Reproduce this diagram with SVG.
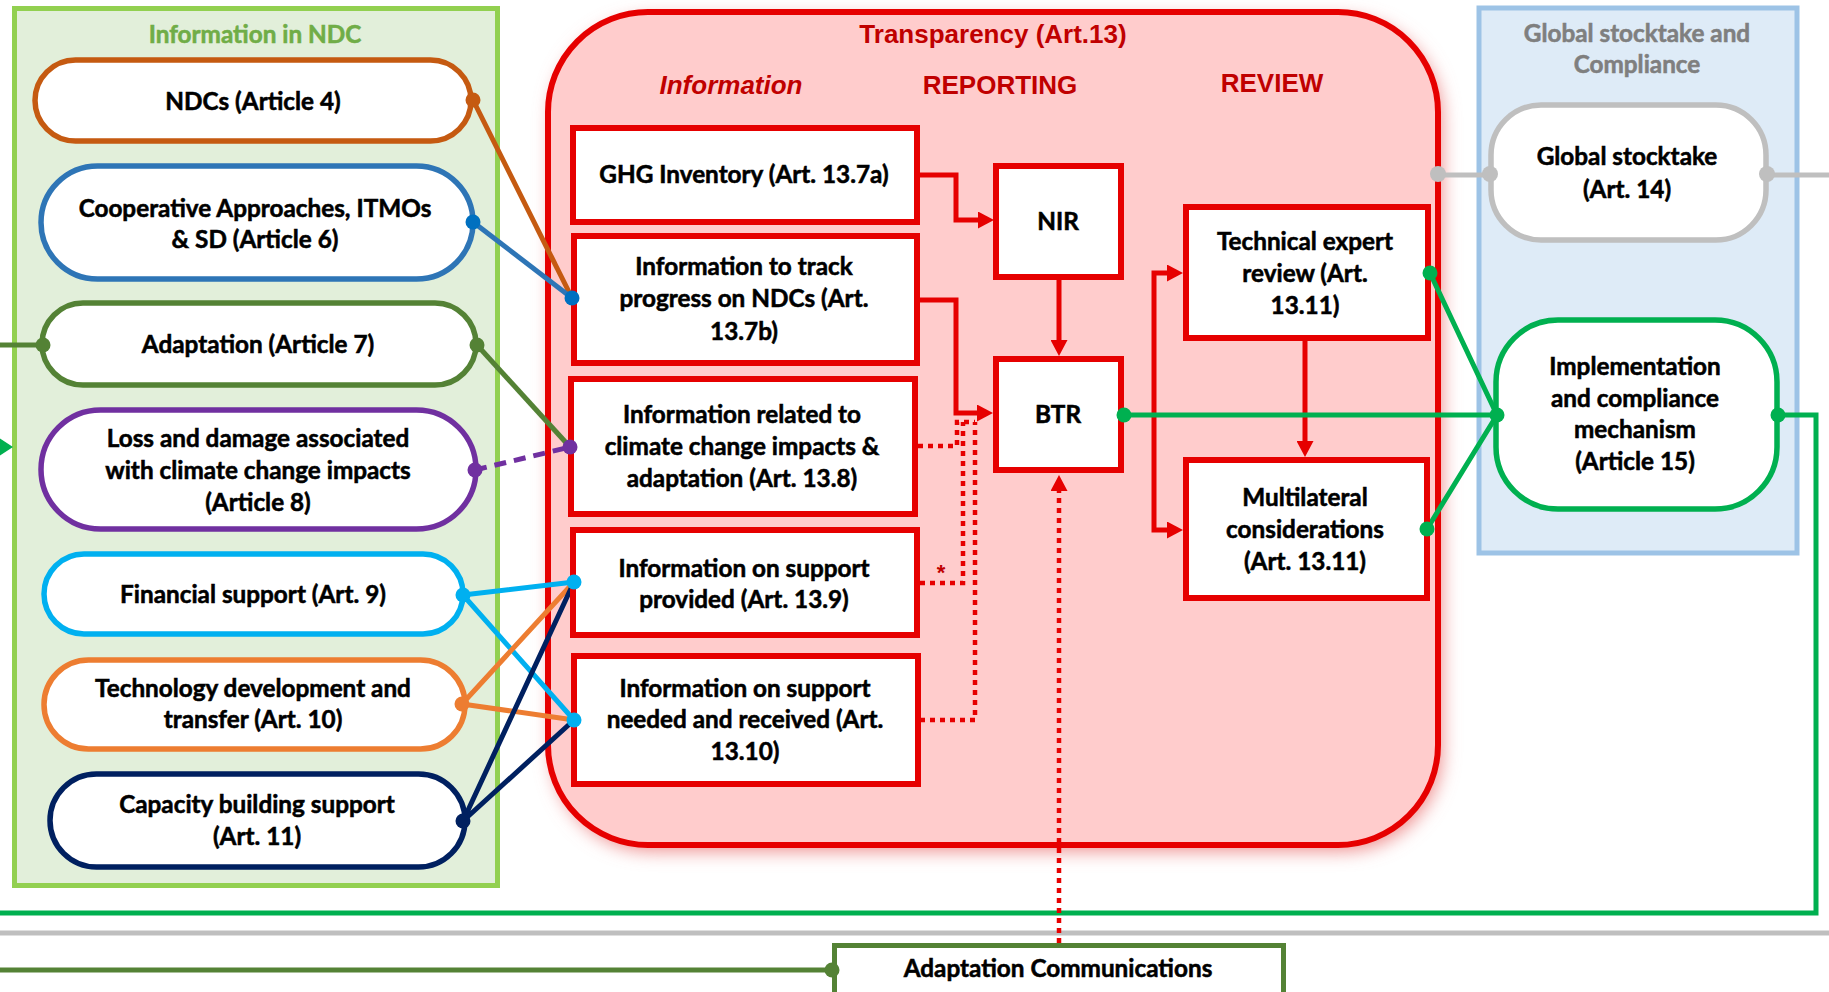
<svg xmlns="http://www.w3.org/2000/svg" width="1829" height="992" viewBox="0 0 1829 992">
  <defs>
    <style>
      .lbl{font-family:Lato,"Liberation Sans",sans-serif;font-weight:700;font-size:24.3px;text-anchor:middle;fill:#000;stroke:#000;stroke-width:0.55px}
      .hdr{font-family:"Liberation Sans",Arial,sans-serif;font-weight:700;font-size:26px;text-anchor:middle;fill:#C00000}
      .pill{fill:#fff;stroke-width:5.5}
      .box{fill:#fff;stroke:#E60000;stroke-width:6}
      .ln{fill:none;stroke-width:5}
      .red{fill:none;stroke:#E60000;stroke-width:5}
      .dots{fill:none;stroke:#E60000;stroke-width:4.5;stroke-dasharray:5 5}
    </style>
    <marker id="ah" viewBox="0 0 16 17" refX="0" refY="8.5" markerWidth="16" markerHeight="17" markerUnits="userSpaceOnUse" orient="auto-start-reverse">
      <path d="M0,0 L16,8.5 L0,17 z" fill="#E60000"/>
    </marker>
    <filter id="glow" x="-10%" y="-10%" width="120%" height="120%">
      <feGaussianBlur stdDeviation="9"/>
    </filter>
  </defs>

  <!-- containers -->
  <g id="ndc-panel">
    <rect x="14.5" y="8.5" width="483" height="877" fill="#E2EFDA" stroke="#92D050" stroke-width="5"/>
    <text class="lbl" x="255" y="43" style="fill:#70AD47;stroke:#70AD47">Information in NDC</text>
  </g>
  <g id="transparency-panel">
    <rect x="552" y="18" width="890" height="833" rx="100" fill="#EE8E8E" filter="url(#glow)"/>
    <rect x="548" y="12" width="890" height="833" rx="100" fill="#FFCCCC" stroke="#E60000" stroke-width="6"/>
    <text class="hdr" x="993" y="43">Transparency (Art.13)</text>
    <text class="hdr" x="731" y="94" font-style="italic">Information</text>
    <text class="hdr" x="1000" y="94">REPORTING</text>
    <text class="hdr" x="1272" y="92">REVIEW</text>
  </g>
  <g id="gst-panel">
    <rect x="1479" y="8" width="318" height="545" fill="#DEEBF7" stroke="#9DC3E6" stroke-width="5"/>
    <text class="lbl" x="1637" y="42" style="fill:#7F7F7F;stroke:#7F7F7F">Global stocktake and</text>
    <text class="lbl" x="1637" y="73" style="fill:#7F7F7F;stroke:#7F7F7F">Compliance</text>
  </g>

  <!-- connectors -->
  <g id="connectors">
    <!-- long loops wrapping round the page -->
    <path class="ln" d="M1778,415 H1816 V913 H0" stroke="#00B050"/>
    <polygon points="0,438.5 13,447 0,455.5" fill="#00B050"/>
    <path class="ln" d="M0,933 H1829" stroke="#BFBFBF"/>
    <path class="ln" d="M1767,175 H1829" stroke="#BFBFBF"/>
    <path class="ln" d="M1439,175 H1491" stroke="#BFBFBF"/>
    <path class="ln" d="M0,970 H832" stroke="#548235"/>
    <path class="ln" d="M0,345 H43" stroke="#548235"/>

    <!-- NDC information into transparency -->
    <path class="ln" d="M473,100 L572,298" stroke="#C55A11"/>
    <path class="ln" d="M473,222 L572,298" stroke="#2E75B6"/>
    <path class="ln" d="M477,345 L570,447" stroke="#548235"/>
    <path class="ln" d="M475,470 L570,447" stroke="#7030A0" stroke-width="6" stroke-dasharray="12 8"/>
    <path class="ln" d="M463,595 L574,582 M463,595 L574,720" stroke="#00B0F0"/>
    <path class="ln" d="M462,704 L574,582 M462,704 L574,720" stroke="#ED7D31"/>
    <path class="ln" d="M463,821 L574,582 M463,821 L574,720" stroke="#002060"/>

    <!-- reporting flow -->
    <path class="red" d="M920,175 H956 V220 H978" marker-end="url(#ah)"/>
    <path class="red" d="M920,300 H956 V413 H977" marker-end="url(#ah)"/>
    <path class="red" d="M1059,280 V340" marker-end="url(#ah)"/>
    <path class="dots" d="M918,446 H957 V422 H975"/>
    <path class="dots" d="M920,583 H963 V422"/>
    <path class="dots" d="M920,720 H975 V422"/>
    <text x="941" y="580" font-family="Liberation Sans, Arial, sans-serif" font-weight="700" font-size="22" fill="#C00000" text-anchor="middle">*</text>
    <path class="dots" d="M1059,943 V491" marker-end="url(#ah)"/>

    <!-- review flow -->
    <path class="red" d="M1167,273 H1154 V530 H1167" marker-start="url(#ah)" marker-end="url(#ah)"/>
    <path class="red" d="M1305,341 V441" marker-end="url(#ah)"/>

    <!-- towards compliance -->
    <path class="ln" d="M1124,415 H1497" stroke="#00B050"/>
    <path class="ln" d="M1430,273 L1497,415 M1427,529 L1497,415" stroke="#00B050"/>
  </g>

  <!-- NDC information nodes -->
  <g id="n-ndc">
    <rect class="pill" x="35" y="60" width="436" height="81" rx="40.5" stroke="#C55A11"/>
    <text class="lbl" x="253" y="110">NDCs (Article 4)</text>
  </g>
  <g id="n-coop">
    <rect class="pill" x="41" y="166" width="432" height="113" rx="56.5" stroke="#2E75B6"/>
    <text class="lbl" x="255" y="217">Cooperative Approaches, ITMOs</text>
    <text class="lbl" x="255" y="248">&amp; SD (Article 6)</text>
  </g>
  <g id="n-adapt">
    <rect class="pill" x="42" y="303" width="434" height="82" rx="41" stroke="#548235"/>
    <text class="lbl" x="258" y="353">Adaptation (Article 7)</text>
  </g>
  <g id="n-loss">
    <rect class="pill" x="41" y="410" width="435" height="119" rx="59.5" stroke="#7030A0"/>
    <text class="lbl" x="258" y="447">Loss and damage associated</text>
    <text class="lbl" x="258" y="479">with climate change impacts</text>
    <text class="lbl" x="258" y="511">(Article 8)</text>
  </g>
  <g id="n-finance">
    <rect class="pill" x="44" y="554" width="419" height="80" rx="40" stroke="#00B0F0"/>
    <text class="lbl" x="253" y="603">Financial support (Art. 9)</text>
  </g>
  <g id="n-tech">
    <rect class="pill" x="44" y="660" width="421" height="89" rx="44.5" stroke="#ED7D31"/>
    <text class="lbl" x="253" y="697">Technology development and</text>
    <text class="lbl" x="253" y="728">transfer (Art. 10)</text>
  </g>
  <g id="n-capacity">
    <rect class="pill" x="50" y="774" width="415" height="93" rx="46.5" stroke="#002060"/>
    <text class="lbl" x="257" y="813">Capacity building support</text>
    <text class="lbl" x="257" y="845">(Art. 11)</text>
  </g>

  <!-- information boxes -->
  <g id="n-ghg">
    <rect class="box" x="573" y="128" width="344" height="94"/>
    <text class="lbl" x="744" y="183">GHG Inventory (Art. 13.7a)</text>
  </g>
  <g id="n-track">
    <rect class="box" x="574" y="236" width="343" height="127"/>
    <text class="lbl" x="744" y="275">Information to track</text>
    <text class="lbl" x="744" y="307">progress on NDCs (Art.</text>
    <text class="lbl" x="744" y="340">13.7b)</text>
  </g>
  <g id="n-impacts">
    <rect class="box" x="571" y="379" width="344" height="135"/>
    <text class="lbl" x="742" y="423">Information related to</text>
    <text class="lbl" x="742" y="455">climate change impacts &amp;</text>
    <text class="lbl" x="742" y="487">adaptation (Art. 13.8)</text>
  </g>
  <g id="n-provided">
    <rect class="box" x="573" y="530" width="344" height="105"/>
    <text class="lbl" x="744" y="577">Information on support</text>
    <text class="lbl" x="744" y="608">provided (Art. 13.9)</text>
  </g>
  <g id="n-needed">
    <rect class="box" x="574" y="656" width="344" height="128"/>
    <text class="lbl" x="745" y="697">Information on support</text>
    <text class="lbl" x="745" y="728">needed and received (Art.</text>
    <text class="lbl" x="745" y="760">13.10)</text>
  </g>

  <!-- reporting and review boxes -->
  <g id="n-nir">
    <rect class="box" x="996" y="166" width="125" height="111"/>
    <text class="lbl" x="1058" y="230">NIR</text>
  </g>
  <g id="n-btr">
    <rect class="box" x="996" y="359" width="125" height="111"/>
    <text class="lbl" x="1058" y="423">BTR</text>
  </g>
  <g id="n-ter">
    <rect class="box" x="1186" y="207" width="242" height="131"/>
    <text class="lbl" x="1305" y="250">Technical expert</text>
    <text class="lbl" x="1305" y="282">review (Art.</text>
    <text class="lbl" x="1305" y="314">13.11)</text>
  </g>
  <g id="n-multi">
    <rect class="box" x="1186" y="460" width="241" height="138"/>
    <text class="lbl" x="1305" y="506">Multilateral</text>
    <text class="lbl" x="1305" y="538">considerations</text>
    <text class="lbl" x="1305" y="570">(Art. 13.11)</text>
  </g>

  <!-- stocktake and compliance nodes -->
  <g id="n-gst">
    <rect class="pill" x="1491" y="105" width="275" height="135" rx="50" stroke="#BFBFBF"/>
    <text class="lbl" x="1627" y="165">Global stocktake</text>
    <text class="lbl" x="1627" y="198">(Art. 14)</text>
  </g>
  <g id="n-compliance">
    <rect class="pill" x="1496" y="320" width="281" height="189" rx="62" stroke="#00B050"/>
    <text class="lbl" x="1635" y="375">Implementation</text>
    <text class="lbl" x="1635" y="407">and compliance</text>
    <text class="lbl" x="1635" y="438">mechanism</text>
    <text class="lbl" x="1635" y="470">(Article 15)</text>
  </g>
  <g id="n-adcom">
    <rect x="834.5" y="945.5" width="449" height="60" fill="#fff" stroke="#548235" stroke-width="5"/>
    <text class="lbl" x="1058" y="977">Adaptation Communications</text>
  </g>

  <!-- connection points -->
  <g id="ports">
    <circle cx="473" cy="100" r="7.5" fill="#C55A11"/>
    <circle cx="473" cy="222" r="7.5" fill="#0070C0"/>
    <circle cx="572" cy="298" r="7.5" fill="#0070C0"/>
    <circle cx="43" cy="345" r="7.5" fill="#548235"/>
    <circle cx="477" cy="345" r="7.5" fill="#548235"/>
    <circle cx="475" cy="470" r="7.5" fill="#7030A0"/>
    <circle cx="570" cy="447" r="7.5" fill="#7030A0"/>
    <circle cx="463" cy="595" r="7.5" fill="#00B0F0"/>
    <circle cx="574" cy="582" r="7.5" fill="#00B0F0"/>
    <circle cx="574" cy="720" r="7.5" fill="#00B0F0"/>
    <circle cx="462" cy="704" r="7.5" fill="#ED7D31"/>
    <circle cx="463" cy="821" r="7.5" fill="#002060"/>
    <circle cx="1124" cy="415" r="7.5" fill="#00B050"/>
    <circle cx="1430" cy="273" r="7.5" fill="#00B050"/>
    <circle cx="1427" cy="529" r="7.5" fill="#00B050"/>
    <circle cx="1497" cy="415" r="7.5" fill="#00B050"/>
    <circle cx="1778" cy="415" r="7.5" fill="#00B050"/>
    <circle cx="1438" cy="174" r="8" fill="#BFBFBF"/>
    <circle cx="1490" cy="174" r="8" fill="#BFBFBF"/>
    <circle cx="1767" cy="174" r="8" fill="#BFBFBF"/>
    <circle cx="832" cy="970" r="7.5" fill="#548235"/>
  </g>
</svg>
